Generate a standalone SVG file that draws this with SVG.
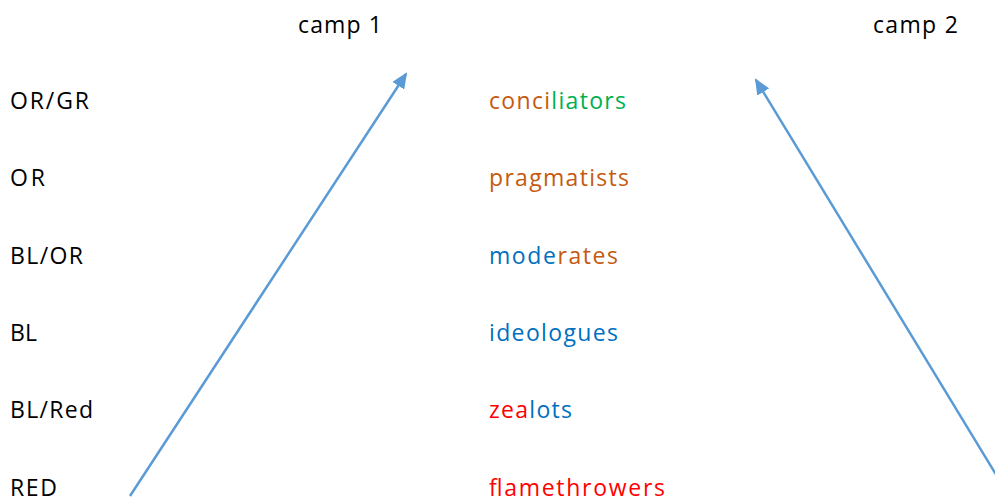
<svg xmlns="http://www.w3.org/2000/svg" width="995" height="502" viewBox="0 0 995 502">
<style>
text{font-family:"Open Sans","Liberation Sans",Arial,sans-serif;font-size:23px;fill:#000}
.o{fill:#C55A11}.g{fill:#00B050}.b{fill:#0070C0}.r{fill:#FF0000}
.conn{stroke:#5B9BD5;stroke-width:2.5;fill:none}
</style>
<defs>
<marker id="ah" markerWidth="16" markerHeight="14" refX="14" refY="7" orient="auto" markerUnits="userSpaceOnUse" viewBox="0 0 16 14">
<path d="M0,0 L16,7 L0,14 z" fill="#5B9BD5"/>
</marker>
</defs>
<g id="headers">
<text id="camp1" x="298" y="33" textLength="84">camp 1</text>
<text id="camp2" x="873" y="33" textLength="85">camp 2</text>
</g>
<g id="labels">
<text x="10" y="109" textLength="79">OR/GR</text>
<text x="10" y="186" textLength="35">OR</text>
<text x="10" y="264" textLength="73">BL/OR</text>
<text x="10" y="341" textLength="27">BL</text>
<text x="10" y="418" textLength="83">BL/Red</text>
<text x="10" y="496" textLength="47">RED</text>
</g>
<g id="types">
<text x="489" y="109" textLength="137"><tspan class="o">conci</tspan><tspan class="g">liators</tspan></text>
<text x="489" y="186" class="o" textLength="140">pragmatists</text>
<text x="489" y="264" textLength="129"><tspan class="b">mode</tspan><tspan class="o">rates</tspan></text>
<text x="489" y="341" class="b" textLength="129">ideologues</text>
<text x="489" y="418" textLength="83"><tspan class="r">zea</tspan><tspan class="b">lots</tspan></text>
<text x="489" y="496" class="r" textLength="176">flamethrowers</text>
</g>
<g id="connectors">
<line class="conn" x1="130" y1="496" x2="406" y2="74" marker-end="url(#ah)"/>
<line class="conn" x1="1000" y1="481" x2="756" y2="80" marker-end="url(#ah)"/>
</g>
</svg>
